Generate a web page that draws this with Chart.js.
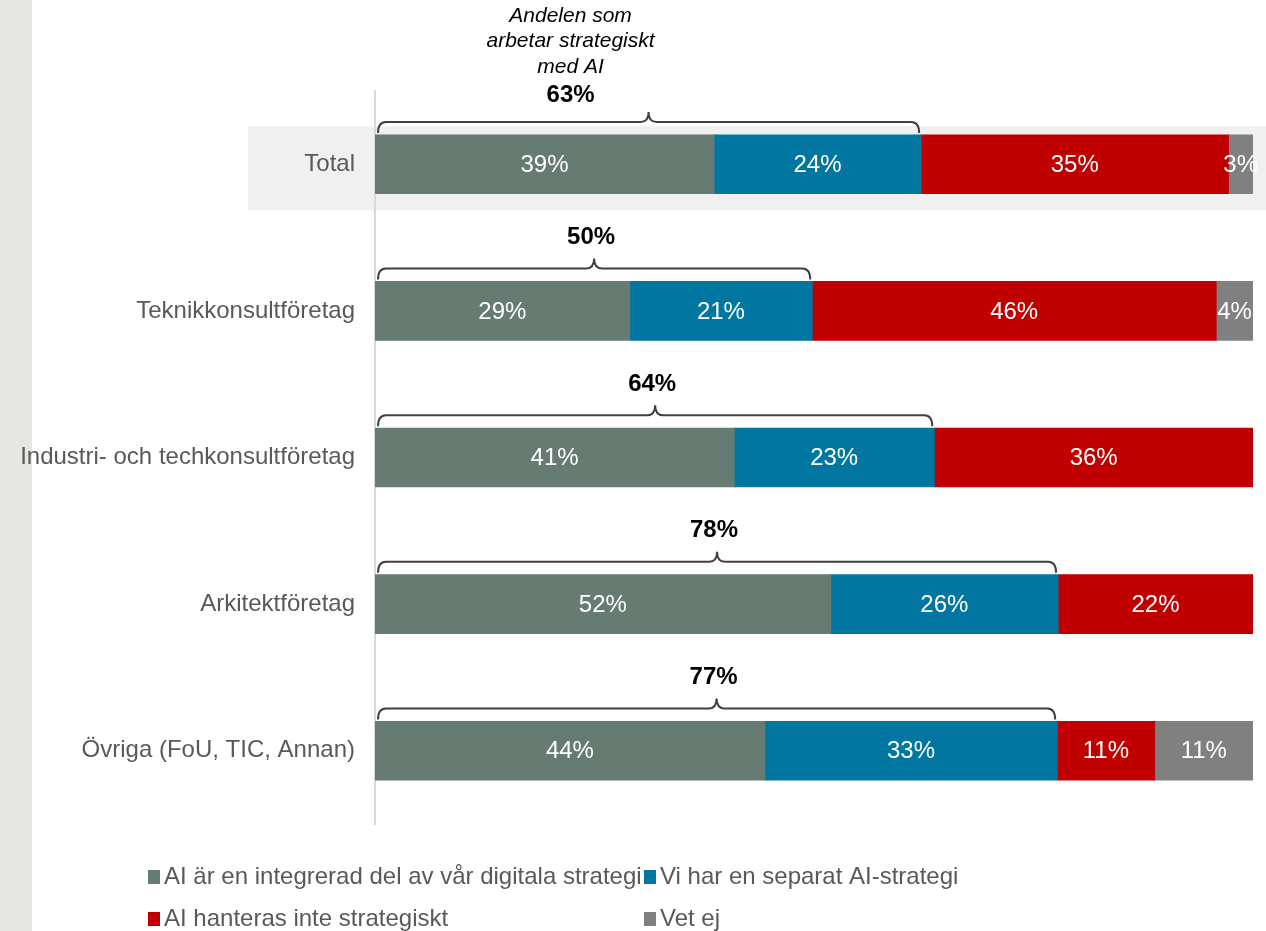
<!DOCTYPE html>
<html>
<head>
<meta charset="utf-8">
<script src="https://cdn.jsdelivr.net/npm/chart.js@4.4.1/dist/chart.umd.min.js"></script>
<style>
    html, body { margin: 0; padding: 0; background: #fff; }
    #wrap { width: 1266px; height: 931px; }
</style>
</head>
<body>
<div id="wrap"><canvas id="chart" width="1266" height="931"></canvas></div>
<script>
// --- Daten ---
const categories = ["Total", "Teknikkonsultföretag", "Industri- och techkonsultföretag", "Arkitektföretag", "Övriga (FoU, TIC, Annan)"];
const integrerad = [38.6, 29.0, 40.9, 51.9, 44.4];
const separat = [23.6, 20.8, 22.8, 25.9, 33.3];
const inteStrategiskt = [35.0, 46.0, 36.3, 22.2, 11.1];
const vetEj = [2.8, 4.2, 0, 0, 11.2];
const strategiskt = [63, 50, 64, 78, 77];
const seriesLabels = [
    "AI är en integrerad del av vår digitala strategi",
    "Vi har en separat AI-strategi",
    "AI hanteras inte strategiskt",
    "Vet ej",
];
const totalNote = ["Andelen som", "arbetar strategiskt", "med AI"];

const FONT = "'Liberation Sans', Arial, sans-serif";
const colors = ["#667b71", "#0076a0", "#c00000", "#808080"];

function brace(ctx, x0, x1, yTip, yLine, yPeak) {
    const r = 8;
    const mid = (x0 + x1) / 2;
    ctx.beginPath();
    ctx.moveTo(x0, yTip);
    ctx.quadraticCurveTo(x0, yLine, x0 + r, yLine);
    ctx.lineTo(mid - r, yLine);
    ctx.quadraticCurveTo(mid, yLine, mid, yPeak);
    ctx.quadraticCurveTo(mid, yLine, mid + r, yLine);
    ctx.lineTo(x1 - r, yLine);
    ctx.quadraticCurveTo(x1, yLine, x1, yTip);
    ctx.stroke();
}

// Hintergrund: grauer Streifen links + Hervorhebung "Total"
const backgroundPlugin = {
    id: "backgrounds",
    beforeDraw(chart) {
        const ctx = chart.ctx;
        const y = chart.scales.y.getPixelForValue(0);
        ctx.save();
        ctx.fillStyle = "#e6e7e2";
        ctx.fillRect(0, 0, 32, chart.height);
        ctx.fillStyle = "#eff0ef";
        ctx.fillRect(248, y - 38, chart.width - 248, 84);
        ctx.restore();
    },
};

// Werte in den Balken, Klammern, Legende
const annotationPlugin = {
    id: "annotations",
    afterDatasetsDraw(chart) {
        const ctx = chart.ctx;
        ctx.save();
        ctx.textAlign = "center";
        ctx.textBaseline = "middle";

        chart.data.datasets.forEach((ds, d) => {
            const meta = chart.getDatasetMeta(d);
            meta.data.forEach((bar, i) => {
                const v = ds.data[i];
                if (!v) return;
                ctx.fillStyle = "#ffffff";
                ctx.font = "24px " + FONT;
                ctx.fillText(Math.round(v) + "%", (bar.base + bar.x) / 2, bar.y + 1);
            });
        });

        const blueMeta = chart.getDatasetMeta(1);
        const left = chart.chartArea.left;
        blueMeta.data.forEach((bar, i) => {
            const top = bar.y - bar.height / 2;
            const x0 = left + 3;
            const x1 = bar.x - 2;
            ctx.strokeStyle = "#404040";
            ctx.lineWidth = 2;
            brace(ctx, x0, x1, top - 2, top - 13, top - 23);

            const mid = (x0 + x1) / 2;
            const cx = i === 0 ? mid - 78 : mid - 3;
            const ly = i === 0 ? top - 40 : top - 44;
            ctx.fillStyle = "#000000";
            ctx.font = "bold 24px " + FONT;
            ctx.fillText(strategiskt[i] + "%", cx, ly);
            if (i === 0) {
                ctx.font = "italic 21px " + FONT;
                totalNote.forEach((line, k) => {
                    ctx.fillText(line, cx, top - 119 + k * 25.5);
                });
            }
        });
        ctx.restore();
    },
    afterDraw(chart) {
        const ctx = chart.ctx;
        ctx.save();
        ctx.textAlign = "left";
        ctx.textBaseline = "middle";
        ctx.font = "24px " + FONT;
        chart.data.datasets.forEach((ds, d) => {
            const x = d % 2 === 0 ? 148 : 644;
            const y = d < 2 ? 876 : 918;
            ctx.fillStyle = ds.backgroundColor;
            ctx.fillRect(x, y - 6, 12, 14);
            ctx.fillStyle = "#595959";
            ctx.fillText(ds.label, x + 16, y + 1);
        });
        ctx.restore();
    },
};

const ctx = document.getElementById("chart").getContext("2d");
const seriesData = [integrerad, separat, inteStrategiskt, vetEj];

const chart = new Chart(ctx, {
    type: "bar",
    data: {
        labels: categories,
        datasets: seriesData.map((data, i) => ({
            label: seriesLabels[i],
            data: data,
            backgroundColor: colors[i],
            borderWidth: 0,
            inflateAmount: 0.5,
            categoryPercentage: 1.0,
            barPercentage: 0.4,
        })),
    },
    options: {
        indexAxis: "y",
        responsive: false,
        animation: false,
        devicePixelRatio: 1,
        layout: { padding: { top: 91, bottom: 107, left: 0, right: 13 } },
        plugins: {
            legend: { display: false },
            tooltip: { enabled: false },
        },
        scales: {
            x: { stacked: true, min: 0, max: 100, display: false },
            y: {
                stacked: true,
                grid: { display: false, drawTicks: false },
                border: { display: true, color: "#d9d9d9", width: 2 },
                ticks: { color: "#595959", font: { size: 24, family: FONT }, padding: 20 },
                afterFit(scale) {
                    scale.width = 375;
                },
            },
        },
    },
    plugins: [backgroundPlugin, annotationPlugin],
});
</script>
</body>
</html>
